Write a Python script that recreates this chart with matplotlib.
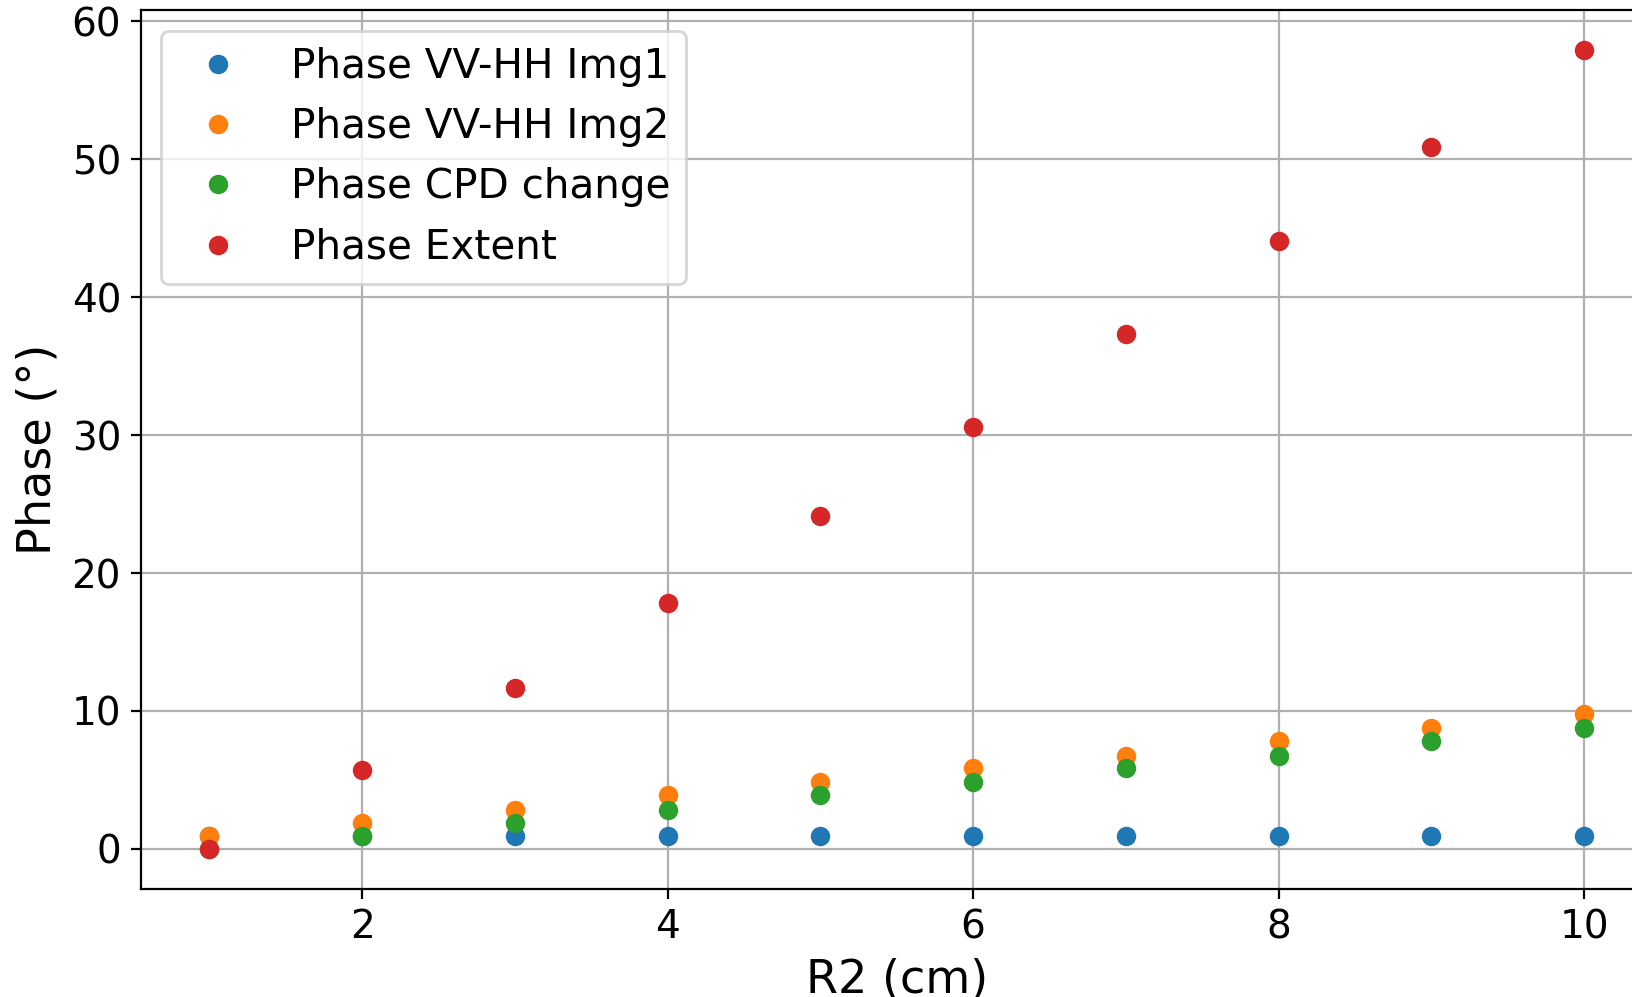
import numpy as np
import matplotlib
matplotlib.use('Agg')
import matplotlib.pyplot as plt

r2 = [1, 2, 3, 4, 5, 6, 7, 8, 9, 10]
phase_img1 = [0.95, 0.95, 0.95, 0.95, 0.95, 0.95, 0.95, 0.95, 0.95, 0.95]
phase_img2 = [0.95, 1.87, 2.85, 3.9, 4.88, 5.83, 6.76, 7.85, 8.78, 9.8]
phase_cpd = [0, 0.95, 1.87, 2.85, 3.9, 4.88, 5.83, 6.76, 7.85, 8.78]
phase_extent = [0, 5.73, 11.66, 17.8, 24.1, 30.6, 37.3, 44.1, 50.9, 57.9]

fig = plt.figure(figsize=(8.16, 4.985), dpi=200)
ax = fig.add_axes([0.0861, 0.1085, 0.9267, 0.8811])

ax.plot(r2, phase_img1, 'o', label='Phase VV-HH Img1')
ax.plot(r2, phase_img2, 'o', label='Phase VV-HH Img2')
ax.plot(r2, phase_cpd, 'o', label='Phase CPD change')
ax.plot(r2, phase_extent, 'o', label='Phase Extent')

ax.set_xlabel('R2 (cm)', fontsize=16.6)
ax.set_ylabel('Phase (°)', fontsize=16.6)
ax.tick_params(labelsize=14)
ax.grid(True)
ax.legend(fontsize=14.6, loc='upper left')

fig.savefig('out.png', dpi=200)
